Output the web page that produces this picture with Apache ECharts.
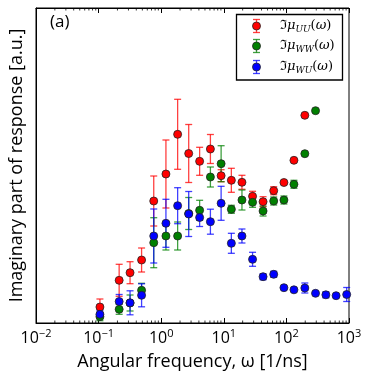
<!DOCTYPE html>
<html>
<head>
<meta charset="utf-8">
<script src="https://cdn.jsdelivr.net/npm/echarts@6/dist/echarts.min.js"></script>
<style>
  html, body { margin: 0; padding: 0; background: #fff; }
  #chart { width: 374px; height: 381px; }
</style>
</head>
<body>
<div id="chart"></div>
<script>
// angular frequency of each measured point [1/ns]
const omega = [0.105, 0.213, 0.318, 0.486, 0.76, 1.19, 1.83, 2.75, 4.11, 6.11, 9.06, 13.2,
  19.5, 28.8, 42.4, 62.7, 91.3, 132, 197, 292, 427, 622, 918];

// Im mu_UU
const uuResp = [16, 42.7, 50.3, 63, 122, 149, 188.7, 169.5, 161.7, 174, 147.3, 142.7, 140.7,
  126.7, 121.3, 132.3, 140.5, 162.7, 207.7];
const uuErr = [8, 16, 11, 12, 25, 34, 35, 29, 14, 14.5, 6, 12, 7, 5, 5, 4, 0, 0, 0];

// Im mu_WW
const wwResp = [6.3, 13.7, 20, 32.7, 80.3, 87, 87, 109.5, 112.7, 146, 159.3, 113.7, 123, 120.7,
  112, 122, 123, 138.7, 169.3, 212.3];
const wwErr = [4, 5, 8, 7, 25, 14, 14, 16, 10, 10, 18, 4, 10, 5, 5, 4, 4, 4, 0, 0];

// Im mu_WU
const wuResp = [8.7, 21.5, 20.2, 27.7, 87, 99.7, 117.3, 109, 105.5, 101.3, 119.7, 79.7, 87,
  63.7, 46.3, 48.7, 35.3, 33.2, 35, 29.7, 28.2, 27.3, 28.5];
const wuErr = [4, 7, 12, 11.5, 27, 24, 18, 22.5, 9, 12.5, 17, 10, 7, 7, 3, 3, 0, 0, 5, 0, 3, 0, 7];

const yMin = 0, yMax = 315;
const decades = [0.01, 0.1, 1, 10, 100, 1000];
const minorTicks = [];
decades.slice(0, -1).forEach(d => { for (let k = 2; k <= 9; k++) minorTicks.push(d * k); });

const RED = '#ff0000', GREEN = '#008000', BLUE = '#0000ff';

const errorBars = (name, color, ys, errs) => ({
  name: name,
  type: 'custom',
  silent: true,
  encode: {x: 0, y: 1},
  data: ys.map((y, i) => [omega[i], y, errs[i]]).filter(d => d[2] > 0),
  renderItem: (params, api) => {
    const x = api.value(0), y = api.value(1), e = api.value(2);
    const top = api.coord([x, y + e]);
    const bot = api.coord([x, y - e]);
    const w = 3.5;
    const st = {stroke: color, lineWidth: 1.3, opacity: 0.75};
    return {
      type: 'group',
      children: [
        {type: 'line', shape: {x1: top[0], y1: top[1], x2: bot[0], y2: bot[1]}, style: st},
        {type: 'line', shape: {x1: top[0] - w, y1: top[1], x2: top[0] + w, y2: top[1]}, style: st},
        {type: 'line', shape: {x1: bot[0] - w, y1: bot[1], x2: bot[0] + w, y2: bot[1]}, style: st}
      ]
    };
  }
});

const markers = (name, color, ys) => ({
  name: name,
  type: 'scatter',
  symbol: 'circle',
  symbolSize: 8,
  data: ys.map((y, i) => [omega[i], y]),
  itemStyle: {color: color, borderColor: '#222', borderWidth: 0.8, opacity: 1}
});

const minorTickSeries = {
  type: 'custom',
  silent: true,
  encode: {x: 0, y: 1},
  data: minorTicks.map(v => [v, yMin]),
  renderItem: (params, api) => {
    const b = api.coord([api.value(0), yMin]);
    const t = api.coord([api.value(0), yMax]);
    const st = {stroke: '#000', lineWidth: 0.8};
    return {
      type: 'group',
      children: [
        {type: 'line', shape: {x1: b[0], y1: b[1], x2: b[0], y2: b[1] - 2.5}, style: st},
        {type: 'line', shape: {x1: t[0], y1: t[1], x2: t[0], y2: t[1] + 2.5}, style: st}
      ]
    };
  }
};

const FONT = 'Open Sans';
const tickRich = {
  b: {fontFamily: FONT, fontSize: 16, color: '#000'},
  s: {fontFamily: FONT, fontSize: 11, color: '#000', verticalAlign: 'bottom', padding: [0, 0, 9, 0]}
};

const chart = echarts.init(document.getElementById('chart'));

// legend drawn by hand: error bar + marker + math label
const legendRows = [
  {color: RED, sub: 'UU', y: 26},
  {color: GREEN, sub: 'WW', y: 46},
  {color: BLUE, sub: 'WU', y: 67}
];
const legendItems = [{
  type: 'rect', z: 100,
  shape: {x: 236.5, y: 14.5, width: 106, height: 65.5},
  style: {fill: '#fff', stroke: '#000', lineWidth: 1.3}
}];
legendRows.forEach(r => {
  const cx = 256.5, h = 6.5, w = 3.5;
  const st = {stroke: r.color, lineWidth: 1.3, opacity: 0.75};
  legendItems.push(
    {type: 'line', z: 101, shape: {x1: cx, y1: r.y - h, x2: cx, y2: r.y + h}, style: st},
    {type: 'line', z: 101, shape: {x1: cx - w, y1: r.y - h, x2: cx + w, y2: r.y - h}, style: st},
    {type: 'line', z: 101, shape: {x1: cx - w, y1: r.y + h, x2: cx + w, y2: r.y + h}, style: st},
    {type: 'circle', z: 102, shape: {cx: cx, cy: r.y, r: 4}, style: {fill: r.color, stroke: '#222', lineWidth: 0.8}},
    {
      type: 'text', z: 102, x: 280, y: r.y,
      style: {
        text: '{f|ℑ}{m|μ}{s|' + r.sub + '}{p|(}{m|ω}{p|)}',
        verticalAlign: 'middle',
        rich: {
          f: {fontFamily: 'DejaVu Serif', fontSize: 13, fill: '#000'},
          m: {fontFamily: 'DejaVu Serif', fontStyle: 'italic', fontSize: 13, fill: '#000'},
          s: {fontFamily: 'DejaVu Serif', fontStyle: 'italic', fontSize: 9, fill: '#000', verticalAlign: 'top', padding: [7, 0, 0, 0]},
          p: {fontFamily: 'DejaVu Serif', fontSize: 13, fill: '#000'}
        }
      }
    }
  );
});
legendItems.push({
  type: 'text', z: 102, left: 50, top: 14,
  style: {text: '(a)', font: '17px "Open Sans"', fill: '#000'}
});

chart.setOption({
  animation: false,
  grid: {left: 34, right: 25, top: 8, bottom: 58, show: true, borderColor: '#000', borderWidth: 1},
  xAxis: [{
    type: 'log',
    logBase: 10,
    min: 0.01,
    max: 1000,
    name: 'Angular frequency, ω [1/ns]',
    nameLocation: 'middle',
    nameGap: 30,
    nameTextStyle: {fontFamily: FONT, fontSize: 18, color: '#000'},
    axisLine: {lineStyle: {color: '#000', width: 1}},
    axisTick: {inside: true, length: 5, lineStyle: {color: '#000'}},
    axisLabel: {
      margin: 5,
      formatter: v => '{b|10}{s|' + String(Math.round(Math.log10(v))).replace('-', '−') + '}',
      rich: tickRich
    },
    splitLine: {show: false}
  }, {
    type: 'log',
    logBase: 10,
    min: 0.01,
    max: 1000,
    position: 'top',
    axisLine: {lineStyle: {color: '#000', width: 1}},
    axisTick: {inside: true, length: 5, lineStyle: {color: '#000'}},
    axisLabel: {show: false},
    splitLine: {show: false}
  }],
  yAxis: {
    type: 'value',
    min: yMin,
    max: yMax,
    name: 'Imaginary part of response [a.u.]',
    nameLocation: 'middle',
    nameGap: 10,
    nameTextStyle: {fontFamily: FONT, fontSize: 18, color: '#000'},
    axisLine: {show: true, lineStyle: {color: '#000', width: 1}},
    axisTick: {show: false},
    axisLabel: {show: false},
    splitLine: {show: false}
  },
  graphic: legendItems,
  series: [
    minorTickSeries,
    errorBars('uuErr', RED, uuResp, uuErr),
    markers('uu', RED, uuResp),
    errorBars('wwErr', GREEN, wwResp, wwErr),
    markers('ww', GREEN, wwResp),
    errorBars('wuErr', BLUE, wuResp, wuErr),
    markers('wu', BLUE, wuResp)
  ]
});
</script>
</body>
</html>
